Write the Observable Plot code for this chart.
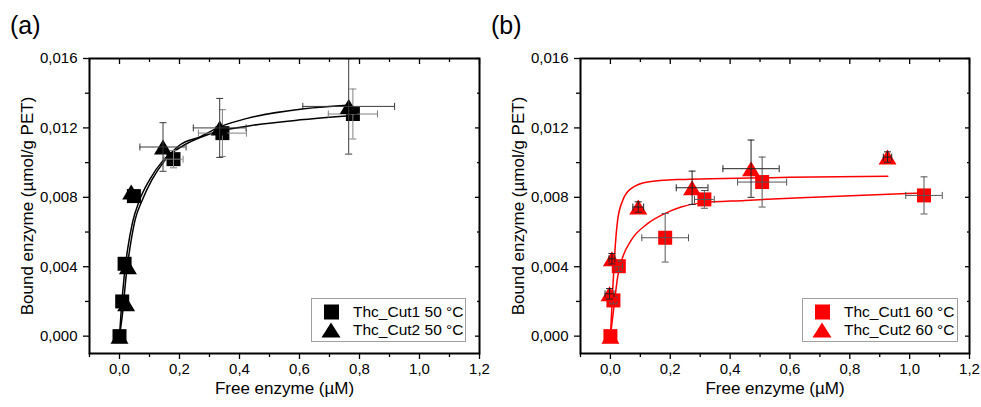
<!DOCTYPE html>
<html>
<head>
<meta charset="utf-8">
<script src="https://cdn.jsdelivr.net/npm/d3@7"></script>
<script src="https://cdn.jsdelivr.net/npm/@observablehq/plot@0.6"></script>
<style>
  html, body { margin: 0; padding: 0; background: #fff; }
  #wrap { position: relative; width: 981px; height: 407px; font-family: "Liberation Sans", Arial, sans-serif; overflow: hidden; }
  #wrap svg.plot { position: absolute; top: 0; }
  .plabel { position: absolute; font-size: 25px; line-height: 25px; color: #000; }
  .legend { position: absolute; top: 298px; height: 44px; border: 1px solid #a0a0a0; box-sizing: border-box; background: #fff; }
  .legend .row { position: absolute; left: 0; height: 18px; font-size: 15.5px; line-height: 18px; white-space: nowrap; }
  .legend .row span { position: absolute; left: 41px; top: 0; }
  .legend svg { position: absolute; left: 8px; top: -1px; }
</style>
</head>
<body>
<div id="wrap"></div>
<script>
// ---------- tick values ----------
const xTicks = [0, 0.2, 0.4, 0.6, 0.8, 1.0, 1.2];
const xMinor = [-0.1, 0.1, 0.3, 0.5, 0.7, 0.9, 1.1];
const yTicks = [0, 0.004, 0.008, 0.012, 0.016];
const yMinor = [0.002, 0.006, 0.010, 0.014];

// ---------- panel (a): 50 °C ----------
const cut1_50_x    = [0, 0.009, 0.017, 0.048, 0.18, 0.343, 0.778];
const cut1_50_y    = [0, 0.0020, 0.00417, 0.00807, 0.0102, 0.0117, 0.0128];
const cut1_50_xerr = [0, 0, 0, 0, 0.032, 0.08, 0.082];
const cut1_50_yerr = [0, 0, 0, 0, 0.0005, 0.00135, 0.00144];

const cut2_50_x    = [0, 0.022, 0.028, 0.039, 0.145, 0.334, 0.764];
const cut2_50_y    = [0, 0.00187, 0.0040, 0.0083, 0.0109, 0.0120, 0.01324];
const cut2_50_xerr = [0, 0, 0, 0, 0.077, 0.088, 0.153];
const cut2_50_yerr = [0, 0, 0, 0, 0.0014, 0.0017, 0.00275];

// fitted curves
const fit1_50_x = [0, 0.005, 0.016, 0.027, 0.044, 0.066, 0.1, 0.144, 0.2, 0.3, 0.426, 0.615, 0.77];
const fit1_50_y = [0, 0.0013, 0.0035, 0.0050, 0.0066, 0.0078, 0.0090, 0.0101, 0.01085, 0.01165, 0.0121, 0.01248, 0.0127];
const fit2_50_x = [0, 0.01, 0.023, 0.035, 0.052, 0.075, 0.108, 0.15, 0.2, 0.27, 0.34, 0.426, 0.615, 0.77];
const fit2_50_y = [0, 0.0013, 0.0036, 0.0051, 0.0067, 0.0078, 0.0090, 0.0101, 0.0110, 0.0115, 0.0121, 0.01255, 0.0131, 0.01332];

// ---------- panel (b): 60 °C ----------
const cut1_60_x    = [0, 0.010, 0.028, 0.183, 0.314, 0.507, 1.048];
const cut1_60_y    = [0, 0.00206, 0.00403, 0.00567, 0.00788, 0.00888, 0.00811];
const cut1_60_xerr = [0, 0.012, 0.012, 0.078, 0.033, 0.082, 0.061];
const cut1_60_yerr = [0, 0.0002, 0.0003, 0.0014, 0.00051, 0.00144, 0.00107];

const cut2_60_x    = [0, -0.003, 0.005, 0.093, 0.273, 0.47, 0.926];
const cut2_60_y    = [0, 0.00244, 0.00446, 0.00744, 0.00855, 0.00965, 0.01032];
const cut2_60_xerr = [0, 0.015, 0.01, 0.018, 0.053, 0.094, 0.014];
const cut2_60_yerr = [0, 0.0003, 0.0003, 0.0003, 0.00096, 0.00165, 0.0003];

const fit1_60_x = [0, 0.013, 0.024, 0.041, 0.069, 0.124, 0.18, 0.236, 0.303, 0.45, 0.637, 0.971, 1.048];
const fit1_60_y = [0, 0.00187, 0.0034, 0.00455, 0.00552, 0.00648, 0.00705, 0.00744, 0.00768, 0.00782, 0.00798, 0.00821, 0.00825];
const fit2_60_x = [0, 0.007, 0.013, 0.024, 0.041, 0.069, 0.124, 0.236, 0.336, 0.6, 0.927];
const fit2_60_y = [0, 0.00244, 0.00436, 0.00667, 0.00782, 0.0085, 0.00888, 0.00903, 0.00907, 0.00915, 0.00922];

const labels = {
  a: ["Thc_Cut1 50 °C", "Thc_Cut2 50 °C"],
  b: ["Thc_Cut1 60 °C", "Thc_Cut2 60 °C"]
};

// ---------- helpers ----------
const fmtY = d => d3.format(".3f")(d).replace(".", ",");
const fmtX = d => d3.format(".1f")(d).replace(".", ",");
const rows = (xs, ys, xe, ye) => xs.map((x, i) => ({x, y: ys[i], xe: xe ? xe[i] : 0, ye: ye ? ye[i] : 0}));

const SQ  = {draw(c) { const h = 7; c.moveTo(-h, -h); c.lineTo(h, -h); c.lineTo(h, h); c.lineTo(-h, h); c.closePath(); }};
const TRI = {draw(c) { const w = 9, h = 7.5; c.moveTo(0, -h); c.lineTo(w, h); c.lineTo(-w, h); c.closePath(); }};
const HCAP = {draw(c) { c.moveTo(-3.5, 0); c.lineTo(3.5, 0); }};
const VCAP = {draw(c) { c.moveTo(0, -3.5); c.lineTo(0, 3.5); }};

function seriesMarks(data, symbol, fill, ec) {
  const ey = data.filter(d => d.ye > 0), ex = data.filter(d => d.xe > 0);
  return [
    Plot.dot(data, {x: "x", y: "y", symbol, fill, stroke: "none"}),
    Plot.ruleX(ey, {x: "x", y1: d => d.y - d.ye, y2: d => d.y + d.ye, stroke: ec, strokeWidth: 1}),
    Plot.ruleY(ex, {y: "y", x1: d => d.x - d.xe, x2: d => d.x + d.xe, stroke: ec, strokeWidth: 1}),
    Plot.dot(ey, {x: "x", y: d => d.y - d.ye, symbol: HCAP, stroke: ec, fill: "none", strokeWidth: 1}),
    Plot.dot(ey, {x: "x", y: d => d.y + d.ye, symbol: HCAP, stroke: ec, fill: "none", strokeWidth: 1}),
    Plot.dot(ex, {x: d => d.x - d.xe, y: "y", symbol: VCAP, stroke: ec, fill: "none", strokeWidth: 1}),
    Plot.dot(ex, {x: d => d.x + d.xe, y: "y", symbol: VCAP, stroke: ec, fill: "none", strokeWidth: 1})
  ];
}

function panel({width, marginLeft, marginRight, s1, s2, f1, f2, color, ec1, ec2}) {
  return Plot.plot({
    width, height: 407, marginLeft, marginRight, marginTop: 58, marginBottom: 54,
    x: {domain: [-0.1, 1.2]},
    y: {domain: [-0.001, 0.016]},
    style: {fontFamily: "'Liberation Sans', Arial, sans-serif", color: "#000", background: "transparent", overflow: "visible"},
    marks: [
      // axes
      Plot.axisX(xTicks, {anchor: "bottom", tickSize: 6, tickPadding: 4, tickFormat: fmtX, fontSize: 15, label: null, strokeWidth: 1.3}),
      Plot.axisX(xMinor, {anchor: "bottom", tickSize: 4, tickFormat: () => "", label: null, strokeWidth: 1.3}),
      Plot.axisX(xTicks, {anchor: "top", tickSize: -5, tickFormat: () => "", label: null, strokeWidth: 1.3}),
      Plot.axisX(xMinor, {anchor: "top", tickSize: -3, tickFormat: () => "", label: null, strokeWidth: 1.3}),
      Plot.axisY(yTicks, {anchor: "left", tickSize: 6, tickPadding: 6, tickFormat: fmtY, fontSize: 15, label: null, strokeWidth: 1.3}),
      Plot.axisY(yMinor, {anchor: "left", tickSize: 4, tickFormat: () => "", label: null, strokeWidth: 1.3}),
      Plot.axisY(yTicks, {anchor: "right", tickSize: -5, tickFormat: () => "", label: null, strokeWidth: 1.3}),
      Plot.axisY(yMinor, {anchor: "right", tickSize: -3, tickFormat: () => "", label: null, strokeWidth: 1.3}),
      Plot.text(["Free enzyme (µM)"], {frameAnchor: "bottom", dy: 35, fontSize: 17, fill: "#000", textAnchor: "middle", lineAnchor: "middle"}),
      Plot.text(["Bound enzyme (µmol/g PET)"], {frameAnchor: "left", dx: -62, rotate: -90, fontSize: 17, fill: "#000", textAnchor: "middle", lineAnchor: "middle"}),
      // fits
      Plot.line(f1, {x: "x", y: "y", stroke: color, strokeWidth: 1.5, curve: "monotone-x"}),
      Plot.line(f2, {x: "x", y: "y", stroke: color, strokeWidth: 1.5, curve: "monotone-x"}),
      // data
      ...seriesMarks(s1, SQ, color, ec1),
      ...seriesMarks(s2, TRI, color, ec2),
      Plot.frame({stroke: "#000", strokeWidth: 2})
    ]
  });
}

const wrap = document.getElementById("wrap");

const pa = panel({
  width: 490, marginLeft: 89, marginRight: 11,
  s1: rows(cut1_50_x, cut1_50_y, cut1_50_xerr, cut1_50_yerr),
  s2: rows(cut2_50_x, cut2_50_y, cut2_50_xerr, cut2_50_yerr),
  f1: rows(fit1_50_x, fit1_50_y), f2: rows(fit2_50_x, fit2_50_y),
  color: "#000", ec1: "#808080", ec2: "#3a3a3a"
});
pa.classList.add("plot"); pa.style.left = "0px";
wrap.appendChild(pa);

const pb = panel({
  width: 491, marginLeft: 90, marginRight: 12,
  s1: rows(cut1_60_x, cut1_60_y, cut1_60_xerr, cut1_60_yerr),
  s2: rows(cut2_60_x, cut2_60_y, cut2_60_xerr, cut2_60_yerr),
  f1: rows(fit1_60_x, fit1_60_y), f2: rows(fit2_60_x, fit2_60_y),
  color: "#ff0000", ec1: "#555", ec2: "#222"
});
pb.classList.add("plot"); pb.style.left = "490px";
wrap.appendChild(pb);

// panel labels
function addLabel(text, left) {
  const d = document.createElement("div");
  d.className = "plabel"; d.textContent = text;
  d.style.left = left + "px"; d.style.top = "13px";
  wrap.appendChild(d);
}
addLabel("(a)", 10);
addLabel("(b)", 491);

// legends
function addLegend(left, width, color, texts) {
  const box = document.createElement("div");
  box.className = "legend";
  box.style.left = left + "px"; box.style.width = width + "px";
  const sq = `<svg width="22" height="20"><rect x="4" y="2.5" width="15" height="15" fill="${color}"/></svg>`;
  const tr = `<svg width="22" height="20"><path d="M11,2.5L20.5,17.5L1.5,17.5Z" fill="${color}"/></svg>`;
  box.innerHTML =
    `<div class="row" style="top:4px">${sq}<span>${texts[0]}</span></div>` +
    `<div class="row" style="top:22px">${tr}<span>${texts[1]}</span></div>`;
  wrap.appendChild(box);
}
addLegend(311, 155, "#000", labels.a);
addLegend(802, 156, "#ff0000", labels.b);
</script>
</body>
</html>
